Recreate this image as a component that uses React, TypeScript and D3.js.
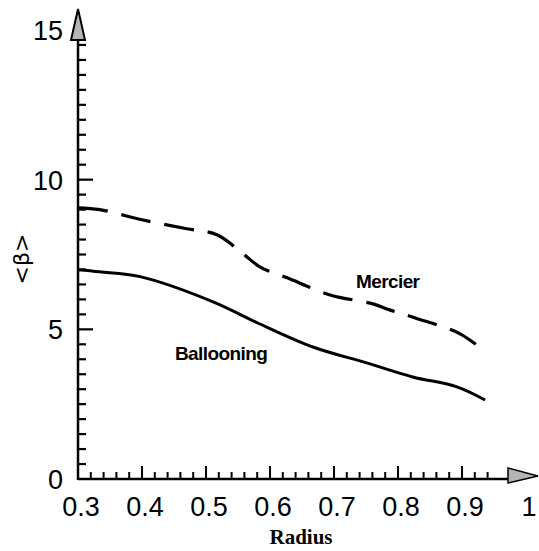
import React, { useEffect, useRef } from 'react';
import * as d3 from 'd3';

// values
const mercierR = [0.3, 0.334, 0.4, 0.47, 0.517, 0.556, 0.584, 0.627, 0.694, 0.761, 0.787, 0.827, 0.897, 0.936];
const mercierB = [9.06, 9.0, 8.66, 8.36, 8.16, 7.56, 7.09, 6.72, 6.15, 5.85, 5.65, 5.38, 4.85, 4.25];
const balloonR = [0.3, 0.334, 0.397, 0.511, 0.58, 0.667, 0.751, 0.823, 0.892, 0.936];
const balloonB = [6.99, 6.92, 6.76, 5.92, 5.22, 4.41, 3.88, 3.41, 3.08, 2.64];
const xTicks = [0.3, 0.4, 0.5, 0.6, 0.7, 0.8, 0.9, 1];
const yTicks = [0, 5, 10, 15];

const W = 539;
const H = 551;

export default function App() {
  const ref = useRef<SVGSVGElement>(null);

  useEffect(() => {
    const svg = d3.select(ref.current);
    svg.selectAll('*').remove();

    const x = d3.scaleLinear().domain([0.3, 1]).range([78, 526]);
    const y = d3.scaleLinear().domain([0, 15]).range([479, 30]);

    const g = svg.append('g');

    // minor ticks
    const xMinor = d3.range(0.32, 0.95, 0.02);
    g.selectAll('.xminor')
      .data(xMinor)
      .enter()
      .append('line')
      .attr('x1', d => x(d)).attr('x2', d => x(d))
      .attr('y1', y(0)).attr('y2', d => {
        const k = Math.round(d * 100);
        return k % 10 === 0 ? y(0) - 13 : y(0) - 7;
      })
      .attr('stroke', '#000').attr('stroke-width', 2);

    const yMinor = d3.range(0.5, 14.6, 0.5);
    g.selectAll('.yminor')
      .data(yMinor)
      .enter()
      .append('line')
      .attr('y1', d => y(d)).attr('y2', d => y(d))
      .attr('x1', x(0.3)).attr('x2', d => (d % 5 === 0 ? x(0.3) + 15 : x(0.3) + 8))
      .attr('stroke', '#000').attr('stroke-width', 2.2);

    // axes
    g.append('line')
      .attr('x1', x(0.3)).attr('x2', 512)
      .attr('y1', y(0)).attr('y2', y(0))
      .attr('stroke', '#000').attr('stroke-width', 2.5);
    g.append('line')
      .attr('x1', x(0.3)).attr('x2', x(0.3))
      .attr('y1', y(0) + 1).attr('y2', 38)
      .attr('stroke', '#000').attr('stroke-width', 2.5);

    // arrowheads
    g.append('path')
      .attr('d', `M${x(0.3)},9 L${x(0.3) - 7},40 L${x(0.3) + 7},40 Z`)
      .attr('fill', '#b5b5b5').attr('stroke', '#000').attr('stroke-width', 2);
    g.append('path')
      .attr('d', `M538,${y(0) - 3} L508,${y(0) - 11} L508,${y(0) + 4} Z`)
      .attr('fill', '#b5b5b5').attr('stroke', '#000').attr('stroke-width', 1.5);

    // tick labels
    g.selectAll('.xl')
      .data(xTicks)
      .enter()
      .append('text')
      .attr('x', d => x(d) + 3)
      .attr('y', 516)
      .attr('text-anchor', 'middle')
      .attr('font-family', 'Liberation Sans, Arial, sans-serif')
      .attr('font-size', 27)
      .text(d => (d === 1 ? '1' : d.toFixed(1)));

    g.selectAll('.yl')
      .data(yTicks)
      .enter()
      .append('text')
      .attr('x', 63)
      .attr('y', d => y(d) + 10)
      .attr('text-anchor', 'end')
      .attr('font-family', 'Liberation Sans, Arial, sans-serif')
      .attr('font-size', 27)
      .text(d => String(d));

    // axis titles
    g.append('text')
      .attr('x', 301).attr('y', 544)
      .attr('text-anchor', 'middle')
      .attr('font-family', 'Liberation Serif, Times New Roman, serif')
      .attr('font-weight', 'bold')
      .attr('font-size', 21)
      .text('Radius');

    g.append('text')
      .attr('transform', 'translate(29,259) rotate(-90)')
      .attr('text-anchor', 'middle')
      .attr('font-family', 'DejaVu Sans, sans-serif')
      .attr('font-size', 22)
      .text('<β>');

    // curves
    const line = d3.line<[number, number]>()
      .x(d => x(d[0]))
      .y(d => y(d[1]))
      .curve(d3.curveCatmullRom);

    const mercier = mercierR.map((r, i) => [r, mercierB[i]] as [number, number]);
    const balloon = balloonR.map((r, i) => [r, balloonB[i]] as [number, number]);

    g.append('path')
      .attr('d', line(mercier))
      .attr('fill', 'none')
      .attr('stroke', '#000')
      .attr('stroke-width', 3.2)
      .attr('stroke-dasharray', '30,14');

    g.append('path')
      .attr('d', line(balloon))
      .attr('fill', 'none')
      .attr('stroke', '#000')
      .attr('stroke-width', 3);

    // curve labels
    g.append('text')
      .attr('x', 356).attr('y', 288)
      .attr('font-family', 'Liberation Sans, Arial, sans-serif')
      .attr('font-size', 19)
      .attr('font-weight', 'bold')
      .attr('letter-spacing', -0.6)
      .text('Mercier');
    g.append('text')
      .attr('x', 175).attr('y', 360)
      .attr('font-family', 'Liberation Sans, Arial, sans-serif')
      .attr('font-size', 19)
      .attr('font-weight', 'bold')
      .attr('letter-spacing', -0.6)
      .text('Ballooning');
  }, []);

  return (
    <svg
      ref={ref}
      width={W}
      height={H}
      style={{ position: 'absolute', left: 0, top: 0, background: '#fff' }}
    ></svg>
  );
}
